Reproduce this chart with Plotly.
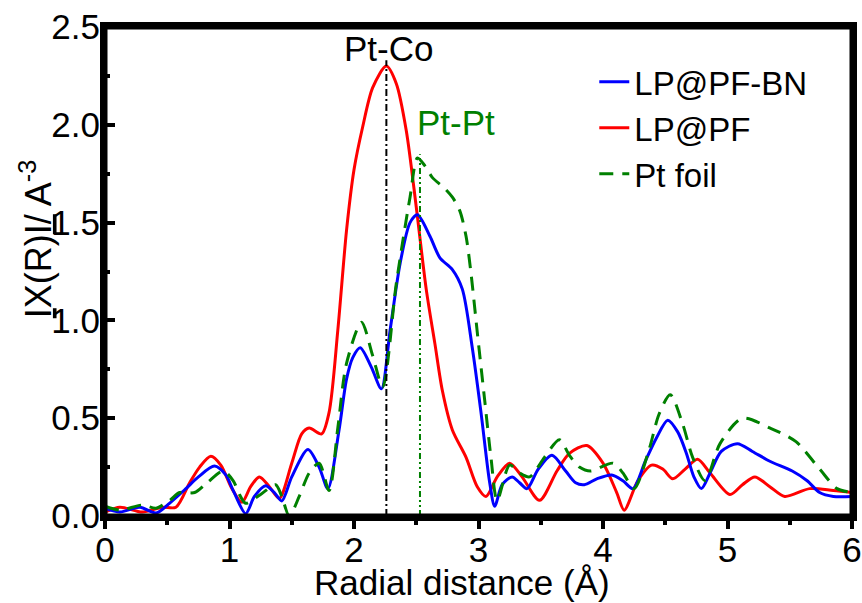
import plotly.graph_objects as go

# |X(R)| curves
bn_r = [0.0, 0.12, 0.28, 0.41, 0.52, 0.65, 0.75, 0.88, 0.97, 1.03, 1.13, 1.20, 1.29, 1.36, 1.42,
        1.50, 1.63, 1.72, 1.79, 1.88, 1.94, 1.99, 2.05, 2.14, 2.22, 2.29, 2.37, 2.45, 2.51, 2.61,
        2.69, 2.79, 2.87, 2.95, 3.02, 3.09, 3.13, 3.19, 3.27, 3.33, 3.39, 3.48, 3.59, 3.70, 3.78,
        3.85, 3.95, 4.07, 4.16, 4.24, 4.34, 4.43, 4.52, 4.60, 4.67, 4.73, 4.79, 4.86, 4.95, 5.08,
        5.20, 5.34, 5.52, 5.64, 5.74, 5.85, 6.00]
bn_chi = [0.04, 0.02, 0.045, 0.015, 0.066, 0.14, 0.20, 0.255, 0.21, 0.13, 0.012, 0.10, 0.155, 0.12, 0.077,
          0.20, 0.34, 0.25, 0.14, 0.44, 0.70, 0.81, 0.86, 0.76, 0.65, 0.95, 1.29, 1.50, 1.54, 1.43,
          1.32, 1.26, 1.16, 0.86, 0.53, 0.17, 0.05, 0.16, 0.20, 0.17, 0.14, 0.24, 0.31, 0.23, 0.17,
          0.16, 0.19, 0.21, 0.18, 0.14, 0.28, 0.40, 0.49, 0.43, 0.32, 0.20, 0.14, 0.22, 0.33, 0.37,
          0.33, 0.28, 0.23, 0.18, 0.12, 0.10, 0.10]

pf_r = [0.0, 0.12, 0.30, 0.46, 0.57, 0.68, 0.76, 0.85, 0.93, 1.02, 1.10, 1.17, 1.24, 1.32, 1.40,
        1.50, 1.58, 1.64, 1.74, 1.80, 1.87, 1.94, 2.00, 2.07, 2.15, 2.26, 2.34, 2.42, 2.50, 2.58,
        2.65, 2.71, 2.79, 2.90, 2.99, 3.06, 3.15, 3.25, 3.35, 3.49, 3.63, 3.73, 3.87, 4.00, 4.11,
        4.17, 4.28, 4.39, 4.48, 4.56, 4.66, 4.76, 4.86, 5.02, 5.12, 5.22, 5.34, 5.46, 5.66, 5.85, 6.00]
pf_chi = [0.02, 0.045, 0.02, 0.045, 0.045, 0.17, 0.25, 0.305, 0.26, 0.14, 0.07, 0.15, 0.20, 0.15, 0.09,
          0.27, 0.42, 0.45, 0.42, 0.53, 0.95, 1.46, 1.77, 1.99, 2.19, 2.30, 2.21, 1.97, 1.58, 1.16,
          0.88, 0.64, 0.44, 0.30, 0.15, 0.10, 0.20, 0.27, 0.20, 0.08, 0.23, 0.32, 0.36, 0.27, 0.12,
          0.03, 0.18, 0.26, 0.24, 0.19, 0.24, 0.29, 0.22, 0.11, 0.16, 0.20, 0.15, 0.10, 0.14, 0.13, 0.12]

foil_r = [0.0, 0.12, 0.30, 0.41, 0.52, 0.60, 0.72, 0.82, 0.95, 1.03, 1.08, 1.13, 1.25, 1.37, 1.42,
          1.48, 1.56, 1.64, 1.72, 1.80, 1.87, 1.94, 2.06, 2.15, 2.23, 2.34, 2.45, 2.51, 2.57, 2.63,
          2.72, 2.79, 2.85, 2.90, 2.94, 2.99, 3.05, 3.10, 3.15, 3.25, 3.33, 3.41, 3.53, 3.65, 3.73,
          3.81, 3.90, 4.08, 4.16, 4.25, 4.37, 4.45, 4.54, 4.64, 4.72, 4.82, 4.94, 5.12, 5.34, 5.55,
          5.74, 5.88, 6.00]
foil_chi = [0.05, 0.03, 0.056, 0.04, 0.08, 0.12, 0.12, 0.17, 0.23, 0.18, 0.11, 0.065, 0.11, 0.16, 0.10,
            0.0, 0.10, 0.22, 0.27, 0.13, 0.45, 0.78, 0.99, 0.82, 0.66, 1.19, 1.63, 1.83, 1.79, 1.73,
            1.68, 1.63, 1.56, 1.43, 1.24, 0.94, 0.59, 0.30, 0.08, 0.26, 0.22, 0.20, 0.30, 0.39, 0.31,
            0.25, 0.23, 0.27, 0.22, 0.14, 0.34, 0.52, 0.62, 0.47, 0.30, 0.18, 0.37, 0.50, 0.45, 0.38,
            0.24, 0.14, 0.12]

# marker lines for the two shells
ptco_r, ptco_top = 2.26, 2.33
ptpt_r, ptpt_top = 2.53, 1.85

x_range = [0, 6]
y_range = [0, 2.5]

FONT = "Arial, Liberation Sans, sans-serif"

fig = go.Figure()
fig.add_trace(go.Scatter(x=pf_r, y=pf_chi, mode='lines', name='LP@PF', legendrank=2,
                         line=dict(color='#ff0000', width=3, shape='spline', smoothing=0.8)))
fig.add_trace(go.Scatter(x=bn_r, y=bn_chi, mode='lines', name='LP@PF-BN', legendrank=1,
                         line=dict(color='#0000ff', width=3, shape='spline', smoothing=0.8)))
fig.add_trace(go.Scatter(x=foil_r, y=foil_chi, mode='lines', name='Pt foil', legendrank=3,
                         line=dict(color='#008000', width=3, dash='14px,9px', shape='spline', smoothing=0.8)))
fig.add_trace(go.Scatter(x=[ptco_r, ptco_r], y=[0, ptco_top], mode='lines', showlegend=False,
                         line=dict(color='black', width=2, dash='7px,3px,2px,3px')))
fig.add_trace(go.Scatter(x=[ptpt_r, ptpt_r], y=[0, ptpt_top], mode='lines', showlegend=False,
                         line=dict(color='#008000', width=2, dash='6px,3px,2px,3px,2px,3px')))

# frame: four separate line shapes along the axis limits
x0, x1 = x_range
y0, y1 = y_range
for sx0, sy0, sx1, sy1 in [(x0, y0, x1, y0), (x0, y1, x1, y1), (x0, y0, x0, y1), (x1, y0, x1, y1)]:
    fig.add_shape(type='line', xref='x', yref='y', x0=sx0, y0=sy0, x1=sx1, y1=sy1,
                  line=dict(color='#000000', width=5), layer='above')

fig.add_annotation(x=ptco_r + 0.02, y=2.5, xref='x', yref='y', text='Pt-Co', showarrow=False,
                   xanchor='center', yanchor='top', font=dict(size=35, color='black', family=FONT))
fig.add_annotation(x=2.82, y=2.01, xref='x', yref='y', text='Pt-Pt', showarrow=False,
                   xanchor='center', yanchor='middle', font=dict(size=35, color='#008000', family=FONT))

# axis titles as annotations so they sit where the reference has them
fig.add_annotation(x=-0.093, y=0.565, xref='paper', yref='paper', textangle=-90,
                   text='<u>I</u>X(R)<u>I/</u> A<sup>-3</sup>', showarrow=False,
                   xanchor='center', yanchor='middle', font=dict(size=36, color='black', family=FONT))
fig.add_annotation(x=0.478, y=-0.137, xref='paper', yref='paper',
                   text='Radial distance (Å)', showarrow=False,
                   xanchor='center', yanchor='middle', font=dict(size=35, color='black', family=FONT))

fig.update_layout(
    width=862, height=603,
    margin=dict(l=105, r=10, t=27, b=87),
    plot_bgcolor='white', paper_bgcolor='white',
    font=dict(family=FONT, size=35, color='black'),
    legend=dict(x=0.655, y=0.945, xanchor='left', yanchor='top', bgcolor='rgba(0,0,0,0)',
                font=dict(size=33), tracegroupgap=0, itemwidth=30),
)
fig.update_xaxes(range=x_range, dtick=1, showline=True, linewidth=5, linecolor='#000000',
                 mirror=True, automargin=False, ticklabelstandoff=-9,
                 ticks='outside', ticklen=8, tickwidth=4, tickcolor='black', showgrid=False,
                 zeroline=False, minor=dict(dtick=0.5, ticks='outside', ticklen=4, tickwidth=4,
                                            tickcolor='black', showgrid=False))
fig.update_yaxes(range=y_range, dtick=0.5, tickformat='.1f', showline=True, linewidth=5,
                 linecolor='#000000', mirror=True, automargin=False, ticklabelstandoff=-7,
                 ticks='inside', ticklen=10, tickwidth=4,
                 tickcolor='black', showgrid=False, zeroline=False,
                 minor=dict(dtick=0.25, ticks='inside', ticklen=5, tickwidth=4, tickcolor='black',
                            showgrid=False))

# drop the default 8px body margin so the 862x603 figure fills the window exactly
fig.write_html("out.html", config={'displayModeBar': False},
               post_script="document.body.style.margin='0';")
